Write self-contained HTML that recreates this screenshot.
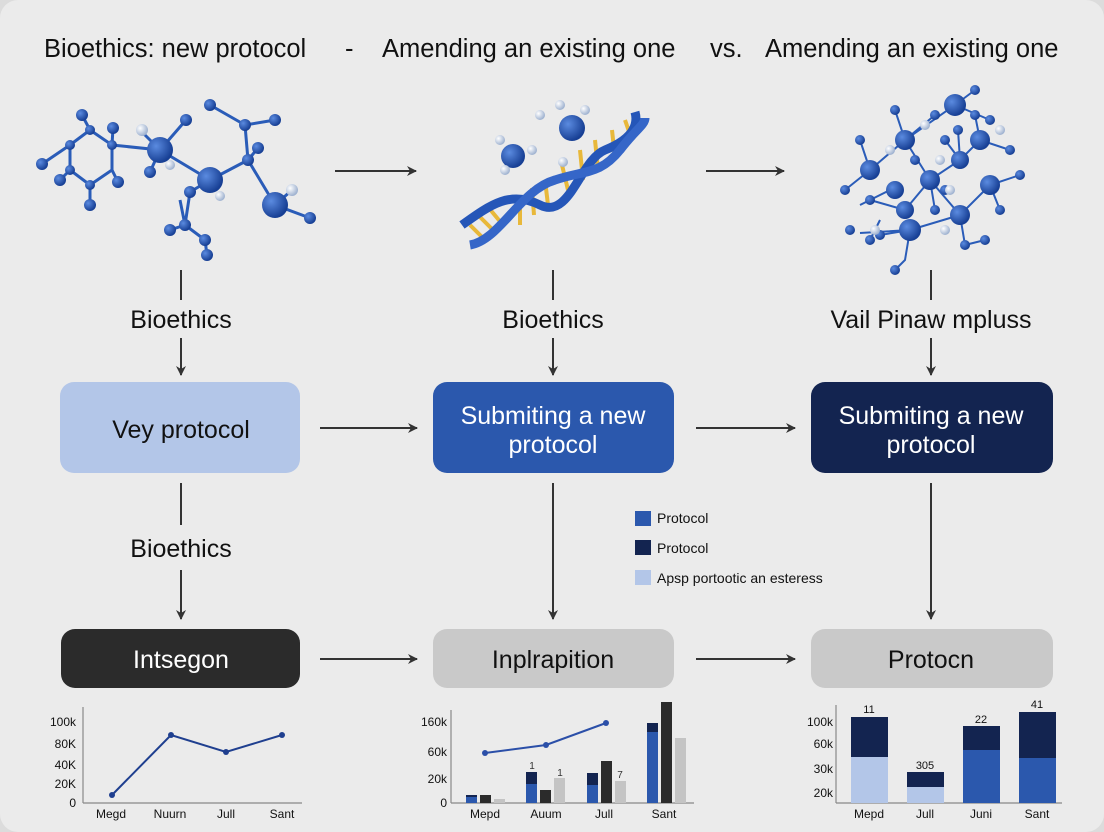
<!DOCTYPE html>
<html><head><meta charset="utf-8"><style>
body{margin:0;width:1104px;height:832px;background:#dcdcdc;font-family:"Liberation Sans",sans-serif;overflow:hidden}
svg{position:absolute;left:0;top:0}
</style></head><body>
<svg width="1104" height="832" viewBox="0 0 1104 832" font-family="Liberation Sans, sans-serif">
<defs>
<marker id="ah" markerWidth="10" markerHeight="10" refX="9" refY="5" orient="auto" markerUnits="userSpaceOnUse"><path d="M0,0 L10,5 L0,10 L3,5z" fill="#333"/></marker>
<radialGradient id="ball" cx="35%" cy="35%" r="65%"><stop offset="0" stop-color="#5b8be0"/><stop offset="1" stop-color="#173f94"/></radialGradient>
<radialGradient id="wb" cx="35%" cy="35%" r="65%"><stop offset="0" stop-color="#fff"/><stop offset="1" stop-color="#9fb2d0"/></radialGradient>
</defs>
<rect x="0" y="0" width="1104" height="832" rx="18" fill="#ebebeb"/>
<g font-size="25.5" fill="#111">
<text x="44" y="57">Bioethics: new protocol</text>
<text x="345" y="57">-</text>
<text x="382" y="57">Amending an existing one</text>
<text x="710" y="57">vs.</text>
<text x="765" y="57">Amending an existing one</text>
</g>
<!-- molecule 1 -->
<g stroke="#2a5cb8" stroke-width="3" fill="none">
<path d="M70,145 L90,130 L112,145 L112,170 L90,185 L70,170Z"/>
<path d="M70,145 L42,164 M90,130 L82,115 M112,145 L160,150 M112,145 L113,128 M112,170 L118,182 M90,185 L90,205 M70,170 L60,180 M160,150 L186,120 M160,150 L140,130 M160,150 L150,172 M160,150 L210,180 L190,192 M210,180 L248,160 L258,148 M248,160 L245,125 L210,105 M245,125 L275,120 M248,160 L275,205 L310,218 M275,205 L292,190 M190,192 L185,225 L170,230 M185,225 L205,240 L207,255 M185,225 L180,200"/>
</g>
<g fill="url(#ball)">
<circle cx="42" cy="164" r="6"/><circle cx="82" cy="115" r="6"/><circle cx="113" cy="128" r="6"/><circle cx="118" cy="182" r="6"/><circle cx="90" cy="205" r="6"/><circle cx="60" cy="180" r="6"/><circle cx="186" cy="120" r="6"/><circle cx="160" cy="150" r="13"/><circle cx="210" cy="180" r="13"/><circle cx="275" cy="205" r="13"/><circle cx="245" cy="125" r="6"/><circle cx="210" cy="105" r="6"/><circle cx="275" cy="120" r="6"/><circle cx="248" cy="160" r="6"/><circle cx="258" cy="148" r="6"/><circle cx="310" cy="218" r="6"/><circle cx="185" cy="225" r="6"/><circle cx="170" cy="230" r="6"/><circle cx="205" cy="240" r="6"/><circle cx="207" cy="255" r="6"/><circle cx="190" cy="192" r="6"/><circle cx="150" cy="172" r="6"/>
<circle cx="90" cy="130" r="5"/><circle cx="112" cy="145" r="5"/><circle cx="70" cy="170" r="5"/><circle cx="90" cy="185" r="5"/><circle cx="70" cy="145" r="5"/>
</g>
<g fill="url(#wb)"><circle cx="142" cy="130" r="6"/><circle cx="170" cy="165" r="5"/><circle cx="292" cy="190" r="6"/><circle cx="220" cy="196" r="5"/></g>
<!-- DNA -->
<g>
<g stroke="#e8b83a" stroke-width="4">
<line x1="470" y1="225" x2="485" y2="240"/><line x1="478" y1="215" x2="495" y2="232"/><line x1="488" y1="207" x2="503" y2="225"/><line x1="520" y1="195" x2="520" y2="225"/><line x1="532" y1="188" x2="534" y2="215"/><line x1="545" y1="180" x2="548" y2="205"/><line x1="562" y1="165" x2="568" y2="190"/><line x1="580" y1="150" x2="583" y2="180"/><line x1="595" y1="140" x2="598" y2="170"/><line x1="612" y1="130" x2="615" y2="158"/><line x1="625" y1="120" x2="632" y2="140"/>
</g>
<path d="M462,225 C490,205 510,190 540,205 C570,220 580,160 605,150 C625,142 640,130 635,112" stroke="#2556b8" stroke-width="9" fill="none"/>
<path d="M470,245 C500,240 520,190 555,180 C585,170 600,175 620,150 C635,130 645,125 645,118" stroke="#3566c8" stroke-width="9" fill="none"/>
</g>
<g fill="url(#ball)"><circle cx="513" cy="156" r="12"/><circle cx="572" cy="128" r="13"/></g>
<g fill="url(#wb)"><circle cx="500" cy="140" r="5"/><circle cx="532" cy="150" r="5"/><circle cx="505" cy="170" r="5"/><circle cx="560" cy="105" r="5"/><circle cx="585" cy="110" r="5"/><circle cx="540" cy="115" r="5"/><circle cx="563" cy="162" r="5"/></g>
<!-- network -->
<g stroke="#2a5cb8" stroke-width="2" fill="none">
<path d="M870,170 L905,140 L955,105 L975,90 M905,140 L895,110 M955,105 L990,120 M905,140 L930,180 L960,160 L980,140 L1010,150 M930,180 L905,210 L870,200 M930,180 L960,215 L990,185 L1020,175 M960,215 L910,230 L880,235 M960,215 L965,245 M910,230 L905,260 L895,270 M905,140 L935,115 M870,170 L860,140 M870,170 L845,190 M990,185 L1000,210 M960,160 L945,140 M965,245 L985,240 M910,230 L860,233"/>
<path d="M880,220 L870,240 M930,180 L935,210 M980,140 L975,115 M960,160 L958,130 M890,190 L860,205"/>
</g>
<g fill="url(#ball)">
<circle cx="905" cy="140" r="10"/><circle cx="955" cy="105" r="11"/><circle cx="870" cy="170" r="10"/><circle cx="930" cy="180" r="10"/><circle cx="960" cy="160" r="9"/><circle cx="980" cy="140" r="10"/><circle cx="905" cy="210" r="9"/><circle cx="960" cy="215" r="10"/><circle cx="990" cy="185" r="10"/><circle cx="910" cy="230" r="11"/><circle cx="895" cy="190" r="9"/>
<circle cx="975" cy="90" r="5"/><circle cx="895" cy="110" r="5"/><circle cx="990" cy="120" r="5"/><circle cx="1010" cy="150" r="5"/><circle cx="870" cy="200" r="5"/><circle cx="1020" cy="175" r="5"/><circle cx="880" cy="235" r="5"/><circle cx="965" cy="245" r="5"/><circle cx="895" cy="270" r="5"/><circle cx="860" cy="140" r="5"/><circle cx="845" cy="190" r="5"/><circle cx="1000" cy="210" r="5"/><circle cx="945" cy="140" r="5"/><circle cx="985" cy="240" r="5"/><circle cx="870" cy="240" r="5"/><circle cx="935" cy="115" r="5"/><circle cx="975" cy="115" r="5"/><circle cx="958" cy="130" r="5"/><circle cx="935" cy="210" r="5"/><circle cx="850" cy="230" r="5"/><circle cx="915" cy="160" r="5"/><circle cx="945" cy="190" r="5"/>
</g>
<g fill="url(#wb)"><circle cx="925" cy="125" r="5"/><circle cx="950" cy="190" r="5"/><circle cx="940" cy="160" r="5"/><circle cx="1000" cy="130" r="5"/><circle cx="890" cy="150" r="5"/><circle cx="945" cy="230" r="5"/><circle cx="875" cy="230" r="5"/></g>
<!-- arrows -->
<g stroke="#333" stroke-width="2" fill="none">
<line x1="335" y1="171" x2="416" y2="171" marker-end="url(#ah)"/>
<line x1="706" y1="171" x2="784" y2="171" marker-end="url(#ah)"/>
<line x1="181" y1="270" x2="181" y2="300"/><line x1="553" y1="270" x2="553" y2="300"/><line x1="931" y1="270" x2="931" y2="300"/>
<line x1="181" y1="338" x2="181" y2="375" marker-end="url(#ah)"/><line x1="553" y1="338" x2="553" y2="375" marker-end="url(#ah)"/><line x1="931" y1="338" x2="931" y2="375" marker-end="url(#ah)"/>
<line x1="320" y1="428" x2="417" y2="428" marker-end="url(#ah)"/>
<line x1="696" y1="428" x2="795" y2="428" marker-end="url(#ah)"/>
<line x1="181" y1="483" x2="181" y2="525"/>
<line x1="181" y1="570" x2="181" y2="619" marker-end="url(#ah)"/>
<line x1="553" y1="483" x2="553" y2="619" marker-end="url(#ah)"/>
<line x1="931" y1="483" x2="931" y2="619" marker-end="url(#ah)"/>
<line x1="320" y1="659" x2="417" y2="659" marker-end="url(#ah)"/>
<line x1="696" y1="659" x2="795" y2="659" marker-end="url(#ah)"/>
</g>
<g font-size="25" fill="#111" text-anchor="middle">
<text x="181" y="328">Bioethics</text><text x="553" y="328">Bioethics</text><text x="931" y="328">Vail Pinaw mpluss</text>
<text x="181" y="557">Bioethics</text>
</g>
<rect x="60" y="382" width="240" height="91" rx="14" fill="#b3c6e8"/>
<rect x="433" y="382" width="241" height="91" rx="14" fill="#2b58ad"/>
<rect x="811" y="382" width="242" height="91" rx="14" fill="#132450"/>
<g font-size="25" text-anchor="middle">
<text x="181" y="438" fill="#111">Vey protocol</text>
<text x="553" y="424" fill="#fff">Submiting a new</text><text x="553" y="453" fill="#fff">protocol</text>
<text x="931" y="424" fill="#fff">Submiting a new</text><text x="931" y="453" fill="#fff">protocol</text>
</g>
<rect x="635" y="511" width="16" height="15" fill="#2b58ad"/><rect x="635" y="540" width="16" height="15" fill="#132450"/><rect x="635" y="570" width="16" height="15" fill="#b3c6e8"/>
<g font-size="14" fill="#111"><text x="657" y="523">Protocol</text><text x="657" y="553">Protocol</text><text x="657" y="583">Apsp portootic an esteress</text></g>
<rect x="61" y="629" width="239" height="59" rx="14" fill="#2b2b2b"/>
<rect x="433" y="629" width="241" height="59" rx="14" fill="#c9c9c9"/>
<rect x="811" y="629" width="242" height="59" rx="14" fill="#c9c9c9"/>
<g font-size="25" text-anchor="middle"><text x="181" y="668" fill="#fff">Intsegon</text><text x="553" y="668" fill="#111">Inplrapition</text><text x="931" y="668" fill="#111">Protocn</text></g>
<!-- charts -->
<g stroke="#888" stroke-width="1.2"><line x1="83" y1="707" x2="83" y2="803"/><line x1="83" y1="803" x2="302" y2="803"/>
<line x1="451" y1="710" x2="451" y2="803"/><line x1="451" y1="803" x2="694" y2="803"/>
<line x1="836" y1="705" x2="836" y2="803"/><line x1="836" y1="803" x2="1062" y2="803"/></g>
<g font-size="12" fill="#111" text-anchor="end">
<text x="76" y="726">100k</text><text x="76" y="748">80K</text><text x="76" y="769">40K</text><text x="76" y="788">20K</text><text x="76" y="807">0</text>
<text x="447" y="726">160k</text><text x="447" y="756">60k</text><text x="447" y="783">20k</text><text x="447" y="807">0</text>
<text x="833" y="726">100k</text><text x="833" y="748">60k</text><text x="833" y="773">30k</text><text x="833" y="797">20k</text>
</g>
<g font-size="12" fill="#111" text-anchor="middle">
<text x="111" y="818">Megd</text><text x="170" y="818">Nuurn</text><text x="226" y="818">Jull</text><text x="282" y="818">Sant</text>
<text x="485" y="818">Mepd</text><text x="546" y="818">Auum</text><text x="604" y="818">Jull</text><text x="664" y="818">Sant</text>
<text x="869" y="818">Mepd</text><text x="925" y="818">Jull</text><text x="981" y="818">Juni</text><text x="1037" y="818">Sant</text>
</g>
<polyline points="112,795 171,735 226,752 282,735" fill="none" stroke="#1f3f8f" stroke-width="2"/>
<g fill="#1f3f8f"><circle cx="112" cy="795" r="3"/><circle cx="171" cy="735" r="3"/><circle cx="226" cy="752" r="3"/><circle cx="282" cy="735" r="3"/></g>
<rect x="466" y="796" width="11" height="7" fill="#2b58ad"/><rect x="466" y="795" width="11" height="2" fill="#132450"/><rect x="480" y="795" width="11" height="8" fill="#2b2b2b"/><rect x="494" y="799" width="11" height="4" fill="#c4c4c4"/>
<rect x="526" y="772" width="11" height="31" fill="#2b58ad"/><rect x="526" y="772" width="11" height="12" fill="#132450"/><rect x="540" y="790" width="11" height="13" fill="#2b2b2b"/><rect x="554" y="778" width="11" height="25" fill="#c4c4c4"/>
<rect x="587" y="773" width="11" height="30" fill="#2b58ad"/><rect x="587" y="773" width="11" height="12" fill="#132450"/><rect x="601" y="761" width="11" height="42" fill="#2b2b2b"/><rect x="615" y="781" width="11" height="22" fill="#c4c4c4"/>
<rect x="647" y="723" width="11" height="80" fill="#2b58ad"/><rect x="647" y="723" width="11" height="9" fill="#132450"/><rect x="661" y="702" width="11" height="101" fill="#2b2b2b"/><rect x="675" y="738" width="11" height="65" fill="#c4c4c4"/>
<g font-size="10" fill="#333" text-anchor="middle"><text x="532" y="769">1</text><text x="560" y="776">1</text><text x="620" y="778">7</text></g>
<polyline points="485,753 546,745 606,723" fill="none" stroke="#2b4fa8" stroke-width="2"/>
<g fill="#2b4fa8"><circle cx="485" cy="753" r="3"/><circle cx="546" cy="745" r="3"/><circle cx="606" cy="723" r="3"/></g>
<rect x="851" y="717" width="37" height="86" fill="#b3c6e8"/><rect x="851" y="717" width="37" height="40" fill="#132450"/>
<rect x="907" y="772" width="37" height="31" fill="#b3c6e8"/><rect x="907" y="772" width="37" height="15" fill="#132450"/>
<rect x="963" y="726" width="37" height="77" fill="#2b58ad"/><rect x="963" y="726" width="37" height="24" fill="#132450"/>
<rect x="1019" y="712" width="37" height="91" fill="#2b58ad"/><rect x="1019" y="712" width="37" height="46" fill="#132450"/>
<g font-size="11" fill="#111" text-anchor="middle"><text x="869" y="713">11</text><text x="925" y="769">305</text><text x="981" y="723">22</text><text x="1037" y="708">41</text></g>
</svg>
</body></html>
